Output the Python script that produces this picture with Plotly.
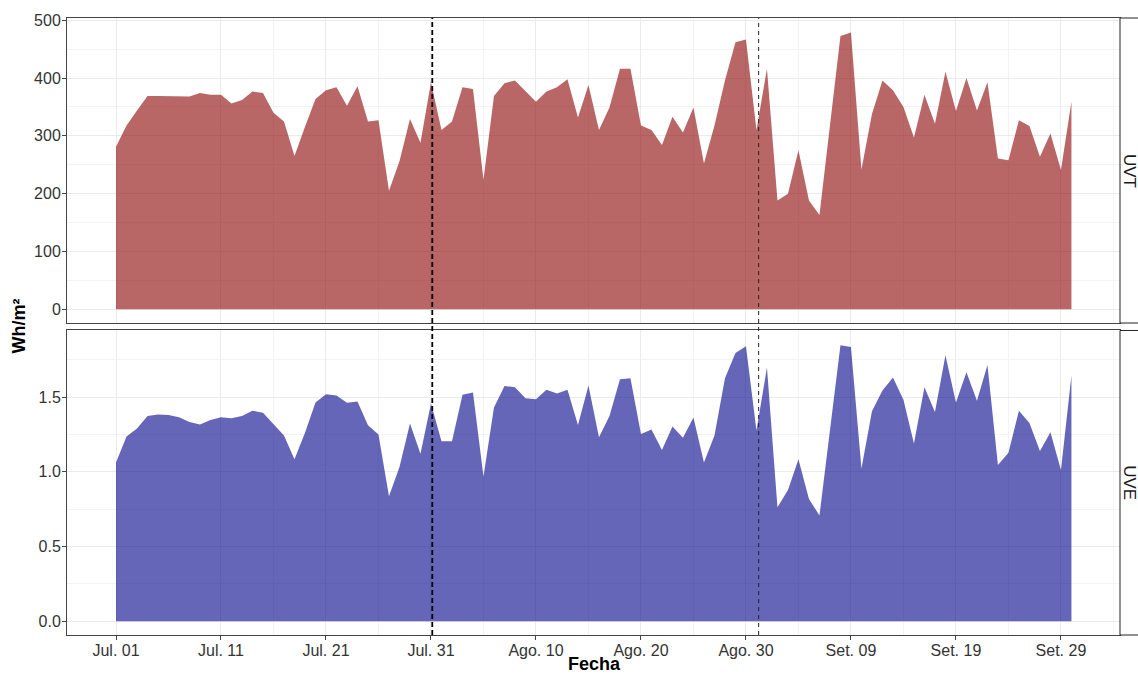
import pandas as pd
import plotly.graph_objects as go

# Daily UV irradiation, July–September
dates = pd.date_range("2023-07-01", "2023-09-30", freq="D")

uvt = [
    281, 318, 344, 369, 369, 369, 368, 368, 374, 371, 371, 356, 362, 377, 374, 340,
    325, 265, 316, 364, 379, 384, 352, 386, 325, 327, 205, 256, 329, 288, 393,
    310, 325, 384, 381, 224, 369, 391, 396, 378, 359, 377, 384, 398, 332, 388, 310,
    349, 416, 416, 318, 310, 284, 333, 306, 349, 252, 318, 396, 462, 467, 310,
    416, 188, 200, 275, 188, 163, 318, 473, 479, 242, 338, 396, 379, 350, 297, 371,
    321, 411, 343, 400, 344, 393, 261, 258, 327, 317, 264, 304, 241, 359,
]

uve = [
    1.062, 1.237, 1.290, 1.374, 1.383, 1.380, 1.365, 1.334, 1.317, 1.347, 1.365,
    1.358, 1.374, 1.409, 1.396, 1.317, 1.243, 1.084, 1.261, 1.464, 1.520, 1.511,
    1.462, 1.471, 1.312, 1.250, 0.836, 1.033, 1.323, 1.121, 1.457,
    1.204, 1.204, 1.516, 1.531, 0.969, 1.431, 1.575, 1.566, 1.493, 1.486, 1.549,
    1.524, 1.549, 1.314, 1.577, 1.232, 1.374, 1.619, 1.626, 1.254, 1.283, 1.146,
    1.303, 1.228, 1.363, 1.062, 1.243, 1.626, 1.796, 1.841, 1.276,
    1.699, 0.763, 0.879, 1.084, 0.819, 0.708, 1.271, 1.847, 1.836, 1.022, 1.405,
    1.544, 1.632, 1.482, 1.190, 1.566, 1.400, 1.781, 1.464, 1.666, 1.476, 1.715,
    1.046, 1.128, 1.409, 1.327, 1.139, 1.265, 1.013, 1.644,
]

panel_names = ["UVT", "UVE"]

x_tick_dates = ["2023-07-01", "2023-07-11", "2023-07-21", "2023-07-31", "2023-08-10",
                "2023-08-20", "2023-08-30", "2023-09-09", "2023-09-19", "2023-09-29"]
x_tick_text = ["Jul. 01", "Jul. 11", "Jul. 21", "Jul. 31", "Ago. 10",
               "Ago. 20", "Ago. 30", "Set. 09", "Set. 19", "Set. 29"]
x_minor_dates = ["2023-07-16", "2023-07-26", "2023-08-05", "2023-08-15", "2023-08-25",
                 "2023-09-04", "2023-09-14", "2023-09-24", "2023-10-04"]

uvt_ticks = [0, 100, 200, 300, 400, 500]
uvt_minor = [50, 150, 250, 350, 450]
uve_ticks = [0.0, 0.5, 1.0, 1.5]
uve_minor = [0.25, 0.75, 1.25, 1.75]

# Month boundaries marked with dashed lines
marker_dates = ["2023-07-31 03:00", "2023-08-31 05:00"]

FONT = "Liberation Sans"
GRID = "#ebebeb"
MINOR = "#f3f3f3"
BORDER = "#444444"
X_RANGE = ["2023-06-26 08:00", "2023-10-04 15:00"]

W, H = 1138, 675
ML, MR, MT, MB = 67, 18, 15, 40
plot_w = W - ML - MR
plot_h = H - MT - MB

top_dom = [(H - MB - 321.5) / plot_h, 1.0]
bot_dom = [0.0, (H - MB - 329) / plot_h]

fig = go.Figure()

fig.add_trace(go.Scatter(
    x=dates, y=uvt, xaxis="x2", yaxis="y2", mode="lines", fill="tozeroy",
    line=dict(width=0, color="rgba(139,0,0,0.6)"),
    fillcolor="rgba(139,0,0,0.6)", name=panel_names[0], hoverinfo="x+y",
))
fig.add_trace(go.Scatter(
    x=dates, y=uve, xaxis="x", yaxis="y", mode="lines", fill="tozeroy",
    line=dict(width=0, color="rgba(0,0,139,0.6)"),
    fillcolor="rgba(0,0,139,0.6)", name=panel_names[1], hoverinfo="x+y",
))

tick_font = dict(family=FONT, size=16, color="#333333")

common_x = dict(
    range=X_RANGE, type="date", showgrid=True, gridcolor=GRID, gridwidth=1,
    tickvals=x_tick_dates, ticktext=x_tick_text,
    minor=dict(tickvals=x_minor_dates, showgrid=True, gridcolor=MINOR, gridwidth=1, ticks=""),
    showline=True, linecolor=BORDER, linewidth=1, mirror=True, zeroline=False,
)

fig.update_layout(
    width=W, height=H,
    margin=dict(l=ML, r=MR, t=MT, b=MB),
    paper_bgcolor="white", plot_bgcolor="white",
    showlegend=False,
    font=dict(family=FONT, color="#333333"),
    xaxis=dict(**common_x, domain=[0, 1], anchor="y", ticks="outside", ticklen=4,
               tickcolor=BORDER, tickwidth=1, tickfont=tick_font, ticklabelstandoff=-3),
    xaxis2=dict(**common_x, domain=[0, 1], anchor="y2", matches="x",
                showticklabels=False, ticks=""),
    yaxis=dict(domain=bot_dom, anchor="x", range=[-0.092, 1.946],
               tickvals=uve_ticks, ticktext=[f"{v:.1f}" for v in uve_ticks],
               minor=dict(tickvals=uve_minor, showgrid=True, gridcolor=MINOR, ticks=""),
               showgrid=True, gridcolor=GRID, zeroline=False,
               showline=True, linecolor=BORDER, mirror=True,
               ticks="outside", ticklen=4, tickcolor=BORDER, tickfont=tick_font,
               ticklabelstandoff=-2),
    yaxis2=dict(domain=top_dom, anchor="x2", range=[-23.9, 504],
                tickvals=uvt_ticks, ticktext=[str(v) for v in uvt_ticks],
                minor=dict(tickvals=uvt_minor, showgrid=True, gridcolor=MINOR, ticks=""),
                showgrid=True, gridcolor=GRID, zeroline=False,
                showline=True, linecolor=BORDER, mirror=True,
                ticks="outside", ticklen=4, tickcolor=BORDER, tickfont=tick_font,
                ticklabelstandoff=-2),
)

shapes = []
# dashed vertical markers across both panels
shapes.append(dict(type="line", xref="x", yref="paper", x0=marker_dates[0], x1=marker_dates[0],
                   y0=0, y1=1, line=dict(color="black", width=1.8, dash="5px,3px")))
shapes.append(dict(type="line", xref="x", yref="paper", x0=marker_dates[1], x1=marker_dates[1],
                   y0=0, y1=1, line=dict(color="#222222", width=1, dash="4px,4px")))

# facet strips on the right
strip_w = 40 / plot_w
for dom in (top_dom, bot_dom):
    shapes.append(dict(type="rect", xref="paper", yref="paper", x0=1, x1=1 + strip_w,
                       y0=dom[0], y1=dom[1], fillcolor="white",
                       line=dict(color="#222222", width=1), layer="above"))

annotations = []
strip_x = 1 + 9.5 / plot_w
for name, dom in zip(panel_names, (top_dom, bot_dom)):
    annotations.append(dict(text=name, xref="paper", yref="paper", x=strip_x,
                            y=(dom[0] + dom[1]) / 2, showarrow=False, textangle=90,
                            xanchor="center", yanchor="middle",
                            font=dict(family=FONT, size=17, color="#1a1a1a")))

annotations.append(dict(text="<b>Wh/m²</b>", xref="paper", yref="paper",
                        x=(18 - ML) / plot_w, y=(H - MB - 325) / plot_h,
                        showarrow=False, textangle=-90, xanchor="center", yanchor="middle",
                        font=dict(family=FONT, size=18, color="black")))
annotations.append(dict(text="<b>Fecha</b>", xref="paper", yref="paper",
                        x=(594 - ML) / plot_w, y=(H - MB - 664) / plot_h,
                        showarrow=False, xanchor="center", yanchor="middle",
                        font=dict(family=FONT, size=18, color="black")))

fig.update_layout(shapes=shapes, annotations=annotations)

fig.write_html("out.html")
